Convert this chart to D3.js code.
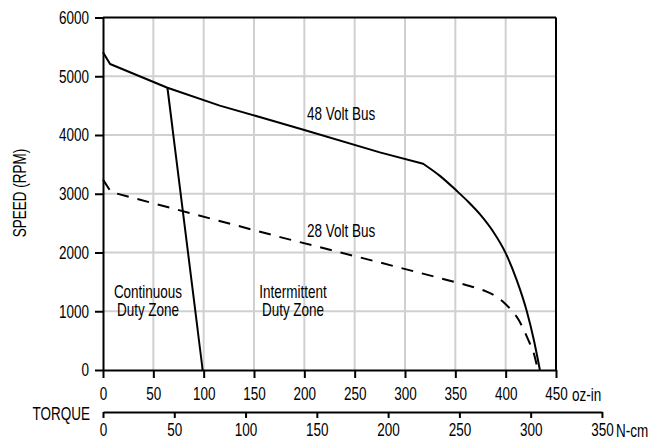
<!DOCTYPE html>
<html>
<head>
<meta charset="utf-8">
<script src="https://cdn.jsdelivr.net/npm/d3@7"></script>
<style>
  body { margin: 0; background: #fff; }
  svg text { font-family: "Liberation Sans", Arial, sans-serif; font-size: 18px; fill: #000; }
</style>
</head>
<body>
<div id="chart"></div>
<script>
// torque (oz-in) / speed (rpm)
// each bus curve: a near straight run down to the knee, then the roll-off to zero speed
const bus48Torque = [0, 7, 64, 116, 159, 200, 275, 318];
const bus48Speed  = [5410, 5208, 4805, 4500, 4290, 4085, 3704, 3511];
const bus48RollTorque = [318, 335, 351, 363, 375, 388, 400, 411, 421, 428, 434];
const bus48RollSpeed  = [3511, 3300, 3055, 2860, 2640, 2345, 1990, 1530, 1000, 510, 0];

const bus28Torque = [0, 8, 176, 275, 358];
const bus28Speed  = [3240, 3030, 2262, 1830, 1461];
const bus28RollTorque = [358, 370, 381, 389, 399, 406, 413, 418, 423, 428, 432];
const bus28RollSpeed  = [1461, 1400, 1335, 1268, 1137, 1011, 852, 682, 490, 280, 0];

// boundary between continuous and intermittent duty
const dutyTorque = [64, 99];
const dutySpeed  = [4805, 0];

const ozTicks    = [0, 50, 100, 150, 200, 250, 300, 350, 400, 450];
const ncmTicks   = [0, 50, 100, 150, 200, 250, 300, 350];
const speedTicks = [0, 1000, 2000, 3000, 4000, 5000, 6000];

const OZIN_PER_NCM = 1.41612;
const SQUEEZE = "scale(0.75,1)"; // the original lettering is a narrow face

const width = 663;
const height = 440;
const margin = { top: 17.5, right: 107, bottom: 70, left: 103 };

const svg = d3.select("#chart").append("svg")
    .attr("width", width)
    .attr("height", height);

const x = d3.scaleLinear().domain([0, 450]).range([margin.left, width - margin.right]);
const y = d3.scaleLinear().domain([0, 6000]).range([height - margin.bottom, margin.top]);
const xNcm = d3.scaleLinear().domain([0, 350]).range([x(0), x(350 * OZIN_PER_NCM)]);

// grid
const grid = svg.append("g").attr("stroke", "#d0d0d0").attr("stroke-width", 2);
grid.selectAll(".vgrid")
    .data(ozTicks.filter(d => d > 0 && d < 450))
    .join("line")
    .attr("x1", d => x(d)).attr("x2", d => x(d))
    .attr("y1", y(6000)).attr("y2", y(0));
grid.selectAll(".hgrid")
    .data(speedTicks.filter(d => d > 0 && d < 6000))
    .join("line")
    .attr("x1", x(0)).attr("x2", x(450))
    .attr("y1", d => y(d)).attr("y2", d => y(d));

// curves
const straight = d3.line().x(d => x(d[0])).y(d => y(d[1]));
const smooth = d3.line().x(d => x(d[0])).y(d => y(d[1])).curve(d3.curveMonotoneX);
const pairs = (a, b) => a.map((t, i) => [t, b[i]]);

// one path so the dash pattern runs on through the knee
function addCurve(torque, speed, rollTorque, rollSpeed, dash) {
    const d = straight(pairs(torque, speed)) +
        smooth(pairs(rollTorque, rollSpeed)).replace(/^M/, "L");
    svg.append("path")
        .attr("fill", "none")
        .attr("stroke", "#000")
        .attr("stroke-width", 2)
        .attr("stroke-linejoin", "round")
        .attr("stroke-dasharray", dash)
        .attr("d", d);
}
addCurve(bus48Torque, bus48Speed, bus48RollTorque, bus48RollSpeed, null);
addCurve(bus28Torque, bus28Speed, bus28RollTorque, bus28RollSpeed, "12,9");

svg.append("path")
    .attr("fill", "none")
    .attr("stroke", "#000")
    .attr("stroke-width", 2)
    .attr("d", straight(pairs(dutyTorque, dutySpeed)));

// frame: top and right edges
svg.append("line")
    .attr("x1", x(0)).attr("x2", x(450))
    .attr("y1", y(6000)).attr("y2", y(6000))
    .attr("stroke", "#000").attr("stroke-width", 2);
svg.append("line")
    .attr("x1", x(450)).attr("x2", x(450))
    .attr("y1", y(6000)).attr("y2", y(0))
    .attr("stroke", "#000").attr("stroke-width", 2);

function styleAxis(g) {
    g.selectAll("path, line").attr("stroke", "#000").attr("stroke-width", 2);
    g.selectAll("text").attr("fill", "#000").style("font-size", "18px");
}

// speed axis
const yAxis = svg.append("g")
    .attr("transform", `translate(${x(0)},0)`)
    .call(d3.axisLeft(y).tickValues(speedTicks).tickFormat(d3.format("d"))
        .tickSize(8).tickSizeOuter(0));
styleAxis(yAxis);
yAxis.selectAll("text")
    .attr("x", 0)
    .attr("transform", "translate(-14,0) " + SQUEEZE);

// oz-in axis
const xAxis = svg.append("g")
    .attr("transform", `translate(0,${y(0)})`)
    .call(d3.axisBottom(x).tickValues(ozTicks).tickFormat(d3.format("d"))
        .tickSize(8).tickPadding(9.5).tickSizeOuter(0));
styleAxis(xAxis);
xAxis.selectAll("text").attr("transform", SQUEEZE);

// N-cm axis
const nAxisY = 412;
const nAxis = svg.append("g")
    .attr("transform", `translate(0,${nAxisY})`)
    .call(d3.axisBottom(xNcm).tickValues(ncmTicks).tickFormat(d3.format("d"))
        .tickSize(6).tickPadding(5.5).tickSizeOuter(0));
styleAxis(nAxis);
nAxis.selectAll("text").attr("transform", SQUEEZE);

// free text
function label(tx, ty, str, anchor, rotate) {
    svg.append("g")
        .attr("transform", `translate(${tx},${ty})` + (rotate ? ` rotate(${rotate})` : ""))
        .append("text")
        .attr("text-anchor", anchor || "start")
        .attr("transform", SQUEEZE)
        .text(str);
}

label(26, 193, "SPEED (RPM)", "middle", -90);
label(90, 420, "TORQUE", "end");
label(572, y(0) + 30.5, "oz-in", "start");
label(616, nAxisY + 24.5, "N-cm", "start");

label(307, 119.5, "48 Volt Bus", "start");
label(307, 237, "28 Volt Bus", "start");
label(148, 298, "Continuous", "middle");
label(148, 316, "Duty Zone", "middle");
label(293, 298, "Intermittent", "middle");
label(293, 316, "Duty Zone", "middle");
</script>
</body>
</html>
